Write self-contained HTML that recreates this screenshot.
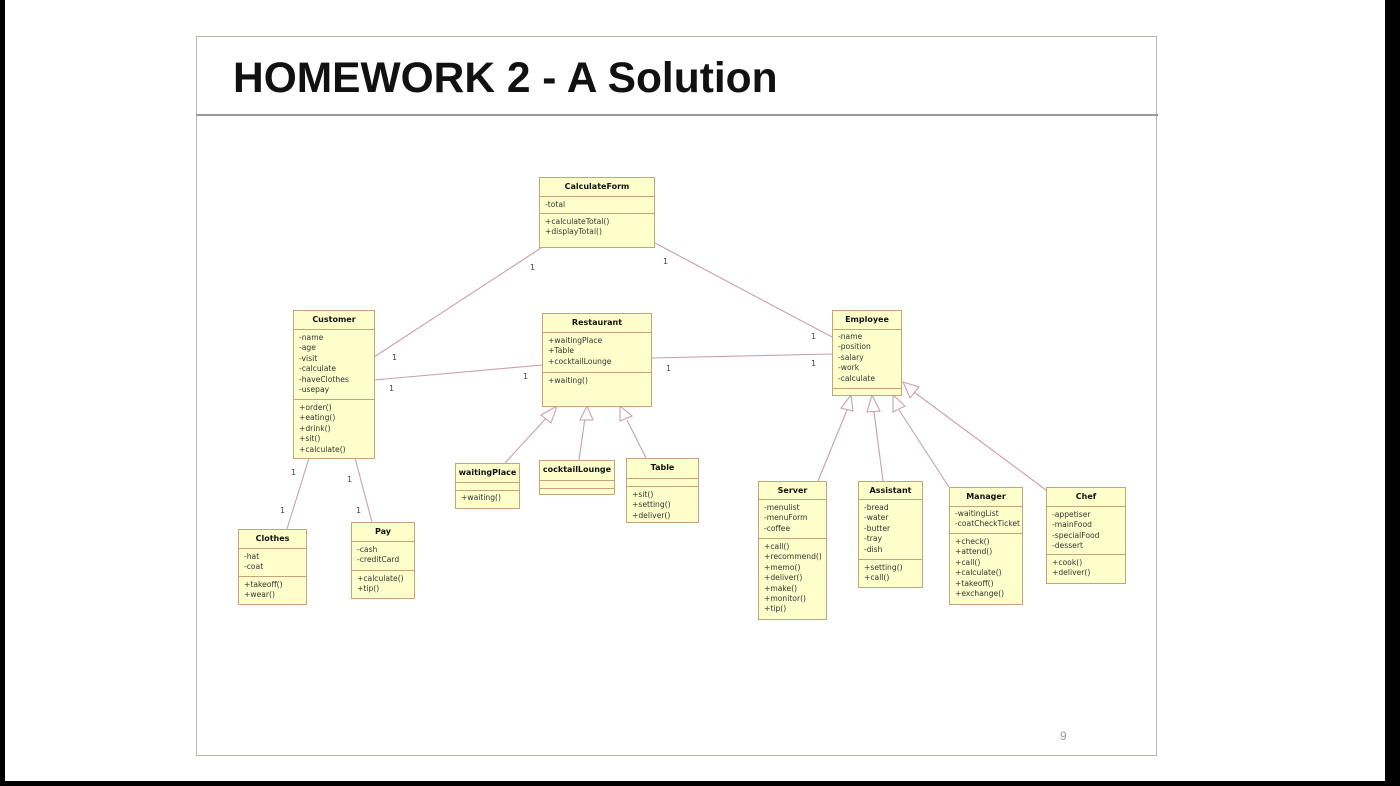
<!DOCTYPE html>
<html><head><meta charset="utf-8">
<style>
html,body{margin:0;padding:0}
body{width:1400px;height:786px;background:#fff;position:relative;overflow:hidden;font-family:"DejaVu Sans","Liberation Sans",sans-serif}
.frame{position:absolute;left:196px;top:36px;width:961px;height:720px;border:1px solid #b8b8a8;box-sizing:border-box}
.title{position:absolute;left:233px;top:55px;font:bold 42.5px "Liberation Sans",sans-serif;color:#111;letter-spacing:0px}
.hr{position:absolute;left:196px;top:114px;width:962px;height:2px;background:#9a9a9a}
.b{position:absolute;background:#ffffcc;border:1px solid #c9a27a;box-sizing:border-box;font-size:7.6px;color:#333;line-height:10.4px}
.b .n{font-weight:bold;text-align:center;border-bottom:1px solid #c9a27a;color:#111;font-size:8px}
.b .c{border-bottom:1px solid #c9a27a;padding-left:5px;box-sizing:border-box;white-space:nowrap}
.b .c:last-child{border-bottom:none}
.l{position:absolute;font-size:8px;color:#444}
.blk{position:absolute;background:#000}
</style></head><body>
<div class="blk" style="left:0;top:0;width:5px;height:786px"></div>
<div class="blk" style="left:1385px;top:0;width:15px;height:786px"></div>
<div class="blk" style="left:0;top:781px;width:1400px;height:5px"></div>
<div class="frame"></div>
<div class="title">HOMEWORK 2 - A Solution</div>
<div class="hr"></div>

<svg width="1400" height="786" style="position:absolute;left:0;top:0" fill="none" stroke="#c9a0a8" stroke-width="1.1">
<line x1="541" y1="248" x2="374" y2="357"/>
<line x1="655" y1="243" x2="832" y2="337"/>
<line x1="374" y1="380" x2="542" y2="365"/>
<line x1="651" y1="358" x2="832" y2="354"/>
<line x1="309" y1="458" x2="287" y2="529"/>
<line x1="355" y1="458" x2="372" y2="522"/>
<line x1="505" y1="463" x2="550" y2="414"/>
<line x1="579" y1="460" x2="585" y2="418"/>
<line x1="646" y1="458" x2="627" y2="420"/>
<line x1="818" y1="481" x2="847" y2="410"/>
<line x1="883" y1="481" x2="874" y2="412"/>
<line x1="949" y1="487" x2="899" y2="410"/>
<line x1="1046" y1="490" x2="914" y2="392"/>
<g fill="#fff">
<polygon points="557,406 541,415 551,423"/>
<polygon points="587,406 580,420 593,420"/>
<polygon points="620,406 620,421 632,416"/>
<polygon points="851,395 841,408 853,411"/>
<polygon points="872,395 867,412 880,411"/>
<polygon points="893,395 893,412 905,406"/>
<polygon points="903,382 910,398 919,387"/>
</g>
</svg>

<div class="l" style="left:530px;top:263px">1</div>
<div class="l" style="left:392px;top:353px">1</div>
<div class="l" style="left:663px;top:257px">1</div>
<div class="l" style="left:811px;top:332px">1</div>
<div class="l" style="left:389px;top:384px">1</div>
<div class="l" style="left:523px;top:372px">1</div>
<div class="l" style="left:666px;top:364px">1</div>
<div class="l" style="left:811px;top:359px">1</div>
<div class="l" style="left:291px;top:468px">1</div>
<div class="l" style="left:280px;top:506px">1</div>
<div class="l" style="left:347px;top:475px">1</div>
<div class="l" style="left:356px;top:506px">1</div>

<div class="b" style="left:539px;top:177px;width:116px;height:71px">
<div class="n" style="height:18px;line-height:17px">CalculateForm</div>
<div class="c" style="height:17px;line-height:16px">-total</div>
<div class="c" style="padding-top:3px">+calculateTotal()<br>+displayTotal()</div></div>

<div class="b" style="left:293px;top:310px;width:82px;height:149px">
<div class="n" style="height:18px;line-height:17px">Customer</div>
<div class="c" style="height:70px;padding-top:3px">-name<br>-age<br>-visit<br>-calculate<br>-haveClothes<br>-usepay</div>
<div class="c" style="padding-top:3px">+order()<br>+eating()<br>+drink()<br>+sit()<br>+calculate()</div></div>

<div class="b" style="left:542px;top:313px;width:110px;height:94px">
<div class="n" style="height:18px;line-height:17px">Restaurant</div>
<div class="c" style="height:40px;padding-top:3px">+waitingPlace<br>+Table<br>+cocktailLounge</div>
<div class="c" style="padding-top:3px">+waiting()</div></div>

<div class="b" style="left:832px;top:310px;width:70px;height:86px">
<div class="n" style="height:18px;line-height:17px">Employee</div>
<div class="c" style="height:59px;padding-top:2px">-name<br>-position<br>-salary<br>-work<br>-calculate</div>
<div class="c"></div></div>

<div class="b" style="left:455px;top:463px;width:65px;height:46px">
<div class="n" style="height:18px;line-height:17px">waitingPlace</div>
<div class="c" style="height:8px"></div>
<div class="c" style="padding-top:2px">+waiting()</div></div>

<div class="b" style="left:539px;top:460px;width:76px;height:35px">
<div class="n" style="height:19px;line-height:17px">cocktailLounge</div>
<div class="c" style="height:8px"></div>
<div class="c"></div></div>

<div class="b" style="left:626px;top:458px;width:73px;height:65px">
<div class="n" style="height:19px;line-height:17px">Table</div>
<div class="c" style="height:8px"></div>
<div class="c" style="padding-top:3px">+sit()<br>+setting()<br>+deliver()</div></div>

<div class="b" style="left:238px;top:529px;width:69px;height:76px">
<div class="n" style="height:18px;line-height:17px">Clothes</div>
<div class="c" style="height:28px;padding-top:3px">-hat<br>-coat</div>
<div class="c" style="padding-top:3px">+takeoff()<br>+wear()</div></div>

<div class="b" style="left:351px;top:522px;width:64px;height:77px">
<div class="n" style="height:18px;line-height:17px">Pay</div>
<div class="c" style="height:29px;padding-top:3px">-cash<br>-creditCard</div>
<div class="c" style="padding-top:3px">+calculate()<br>+tip()</div></div>

<div class="b" style="left:758px;top:481px;width:69px;height:139px">
<div class="n" style="height:17px;line-height:17px">Server</div>
<div class="c" style="height:39px;padding-top:3px">-menulist<br>-menuForm<br>-coffee</div>
<div class="c" style="padding-top:3px">+call()<br>+recommend()<br>+memo()<br>+deliver()<br>+make()<br>+monitor()<br>+tip()</div></div>

<div class="b" style="left:858px;top:481px;width:65px;height:107px">
<div class="n" style="height:17px;line-height:17px">Assistant</div>
<div class="c" style="height:60px;padding-top:3px">-bread<br>-water<br>-butter<br>-tray<br>-dish</div>
<div class="c" style="padding-top:3px">+setting()<br>+call()</div></div>

<div class="b" style="left:949px;top:487px;width:74px;height:118px">
<div class="n" style="height:18px;line-height:17px">Manager</div>
<div class="c" style="height:27px;padding-top:2px">-waitingList<br>-coatCheckTicket</div>
<div class="c" style="padding-top:3px">+check()<br>+attend()<br>+call()<br>+calculate()<br>+takeoff()<br>+exchange()</div></div>

<div class="b" style="left:1046px;top:487px;width:80px;height:97px">
<div class="n" style="height:18px;line-height:17px">Chef</div>
<div class="c" style="height:48px;padding-top:3px">-appetiser<br>-mainFood<br>-specialFood<br>-dessert</div>
<div class="c" style="padding-top:3px">+cook()<br>+deliver()</div></div>

<div style="position:absolute;left:1060px;top:729px;font:12px 'Liberation Sans',sans-serif;color:#999">9</div>
</body></html>
